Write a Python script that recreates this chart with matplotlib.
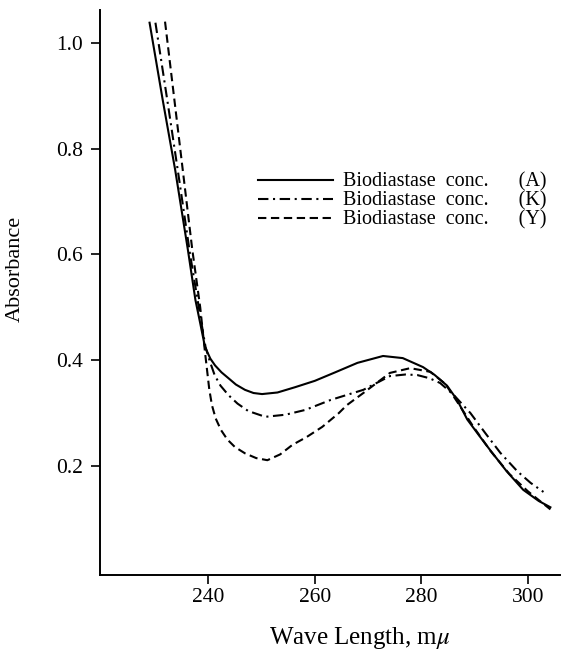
import matplotlib.pyplot as plt
from matplotlib.lines import Line2D

plt.rcParams['font.family'] = ['Liberation Serif', 'DejaVu Serif']
plt.rcParams['mathtext.fontset'] = 'stix'

# curve A (solid)
wl_A = [229.0, 231.5, 233.8, 236.2, 237.6, 238.5, 239.4, 240.4, 241.3, 242.5,
        243.8, 245.2, 246.9, 248.5, 250.1, 253.0, 256.3, 260.0, 263.8, 268.0,
        272.8, 276.5, 280.3, 282.5, 284.8, 286.7, 288.6, 290.8, 292.9, 296.0,
        299.1, 302.0, 304.2]
abs_A = [1.038, 0.89, 0.76, 0.608, 0.514, 0.47, 0.425, 0.403, 0.39, 0.377,
         0.366, 0.354, 0.344, 0.338, 0.336, 0.339, 0.349, 0.361, 0.377, 0.395,
         0.408, 0.404, 0.387, 0.372, 0.352, 0.325, 0.288, 0.258, 0.230, 0.190,
         0.155, 0.134, 0.122]

# curve K (dash-dot)
wl_K = [230.1, 232.5, 234.5, 236.6, 238.4, 239.5, 240.3, 241.2, 242.3, 243.8,
        245.5, 247.5, 250.7, 254.5, 258.2, 263.0, 269.1, 274.1, 277.0, 279.2,
        281.5, 283.5, 286.0, 289.2, 292.0, 294.8, 298.0, 300.5, 302.9]
abs_K = [1.038, 0.88, 0.745, 0.60, 0.49, 0.425, 0.398, 0.372, 0.352, 0.334,
         0.318, 0.304, 0.293, 0.297, 0.306, 0.325, 0.344, 0.370, 0.373, 0.372,
         0.366, 0.357, 0.335, 0.300, 0.262, 0.225, 0.190, 0.168, 0.151]

# curve Y (dashed)
wl_Y = [231.9, 233.8, 235.4, 237.0, 238.5, 239.4, 239.8, 240.2, 240.7, 241.4,
        242.4, 243.6, 245.0, 246.9, 249.0, 251.1, 253.5, 255.8, 258.5, 261.4,
        264.5, 266.0, 269.1, 274.1, 277.9, 281.7, 284.5, 286.8, 289.7, 293.0,
        296.5, 300.0, 304.2]
abs_Y = [1.04, 0.88, 0.745, 0.61, 0.50, 0.415, 0.38, 0.345, 0.315, 0.29,
         0.268, 0.25, 0.236, 0.224, 0.215, 0.211, 0.222, 0.240, 0.255, 0.274,
         0.300, 0.315, 0.338, 0.376, 0.385, 0.378, 0.355, 0.320, 0.275, 0.228,
         0.185, 0.152, 0.118]

labels = ['Biodiastase  conc.      (A)', 'Biodiastase  conc.      (K)',
          'Biodiastase  conc.      (Y)']
x_ticks = [240, 260, 280, 300]
y_ticks = [0.2, 0.4, 0.6, 0.8, 1.0]
y_ticklabels = ['0.2', '0.4', '0.6', '0.8', '1.0']

fig = plt.figure(figsize=(5.63, 6.55), dpi=100)
ax = fig.add_axes([100 / 563, 1 - 575 / 655, 460 / 563, 565 / 655])

lw = 1.5
dash_k = (5, 2.2, 1, 2.2)
dash_y = (4, 2.2)
ax.plot(wl_A, abs_A, color='black', lw=lw)
ax.plot(wl_K, abs_K, color='black', lw=lw, dashes=dash_k)
ax.plot(wl_Y, abs_Y, color='black', lw=lw, dashes=dash_y)

ax.set_xlim(219.7, 306.0)
ax.set_ylim(-0.006, 1.062)
ax.spines['top'].set_visible(False)
ax.spines['right'].set_visible(False)
ax.spines['left'].set_linewidth(1.4)
ax.spines['bottom'].set_linewidth(1.4)

ax.set_xticks(x_ticks)
ax.set_yticks(y_ticks)
ax.set_yticklabels(y_ticklabels)
ax.tick_params(direction='out', length=6.5, width=1.2, labelsize=15.5)
ax.tick_params(axis='y', pad=6)
ax.tick_params(axis='x', pad=3)

ax.set_xlabel(r'Wave Length, m$\mu$', fontsize=18)
ax.xaxis.set_label_coords(0.565, -0.088)
ax.set_ylabel('Absorbance', fontsize=16)
ax.yaxis.set_label_coords(-0.163, 0.542)

handles = [Line2D([], [], color='black', lw=lw),
           Line2D([], [], color='black', lw=lw, dashes=dash_k),
           Line2D([], [], color='black', lw=lw, dashes=dash_y)]
ax.legend(handles, labels, loc='upper left', bbox_to_anchor=(0.3435, 0.712),
          frameon=False, fontsize=14.5, handlelength=3.7, handletextpad=0.5,
          labelspacing=-0.02, borderpad=0, borderaxespad=0)

fig.savefig('out.png', dpi=100)
